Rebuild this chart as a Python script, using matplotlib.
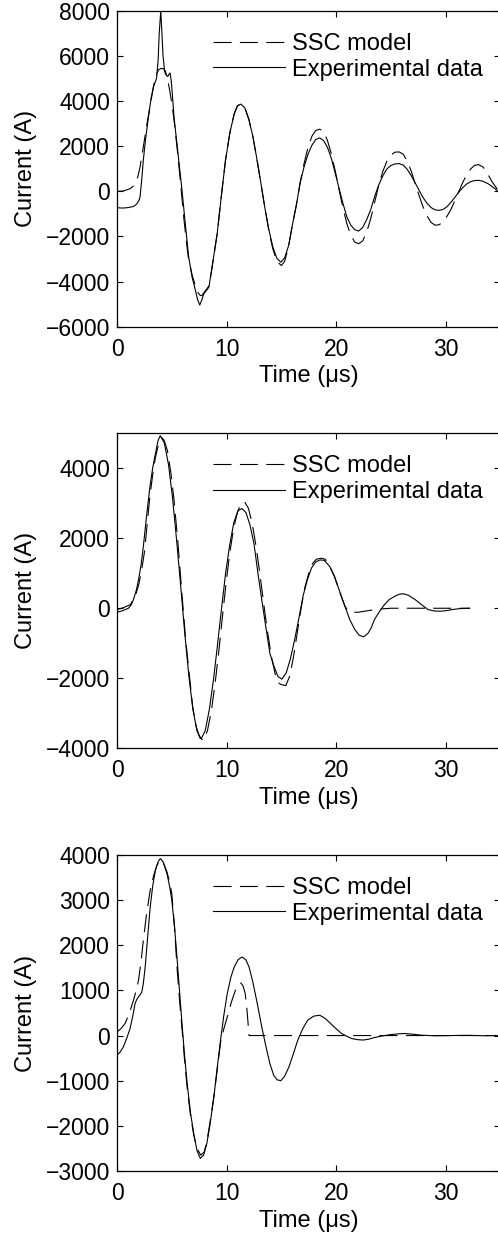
import matplotlib
matplotlib.use("Agg")
import matplotlib.pyplot as plt

plt.rcParams['font.family'] = ['Liberation Sans', 'DejaVu Sans']
plt.rcParams['lines.scale_dashes'] = False

# ---- panel 1 ----
t_exp1 = [0, 0.5, 1.0, 1.5, 1.8, 2.0, 2.1, 2.25, 2.4, 2.6, 2.87, 3.1, 3.33, 3.6, 3.75,
          3.85, 3.99, 4.1, 4.2, 4.35, 4.5, 4.63, 4.75, 4.84, 4.95, 5.05, 5.2, 5.6, 5.9,
          6.2, 6.54, 6.85, 7.16, 7.35, 7.55, 7.75, 7.92, 8.15, 8.38, 8.6, 8.85, 9.14,
          9.5, 9.9, 10.3, 10.7, 11.0, 11.3, 11.67, 12.03, 12.4, 12.76, 13.13, 13.49,
          13.86, 14.22, 14.59, 14.95, 15.3, 15.66, 16.0, 16.37, 16.72, 17.08, 17.43,
          17.79, 18.14, 18.5, 18.86, 19.21, 19.57, 19.92, 20.28, 20.63, 20.99, 21.34,
          21.7, 22.05, 22.42, 22.79, 23.16, 23.53, 23.9, 24.27, 24.64, 25.01, 25.38,
          25.75, 26.12, 26.48, 26.85, 27.21, 27.58, 27.94, 28.31, 28.67, 29.04, 29.4,
          29.76, 30.12, 30.48, 30.84, 31.2, 31.56, 31.92, 32.28, 32.64, 33.0, 33.4,
          33.9, 34.3, 34.7]
i_exp1 = [-725, -740, -720, -670, -560, -400, -250, 500, 1380, 2300, 3300, 4100, 4640, 5000, 5800,
          7000, 8000, 7000, 6000, 5300, 5150, 5090, 5200, 5250, 4900, 4300, 3300, 1530, 190,
          -1290, -2915, -3800, -4400, -4800, -5040, -4800, -4540, -4400, -4250, -3600, -2800, -1880,
          -300, 1380, 2600, 3450, 3800, 3870, 3700, 3200, 2430, 1450, 365, -720,
          -1700, -2470, -2970, -3140, -2950, -2400, -1500, -600, 400, 1100, 1650,
          2050, 2300, 2370, 2250, 1950, 1450, 800, 100, -550, -1150, -1500,
          -1700, -1760, -1600, -1250, -800, -200, 300, 700, 1000, 1150, 1220,
          1230, 1170, 980, 700, 380, 40, -280, -540, -720, -820, -840,
          -800, -680, -480, -260, -30, 170, 330, 430, 480, 490, 450,
          330, 190, 40]
t_mod1 = [0, 0.6, 1.2, 1.45, 1.65, 1.9, 2.1, 2.4, 2.7, 3.0, 3.25, 3.5, 3.8, 4.0, 4.2,
          4.4, 4.6, 4.8, 5.0, 5.17, 5.4, 5.6, 5.85, 6.1, 6.3, 6.5, 6.85, 7.16, 7.4, 7.6,
          7.75, 7.92, 8.15, 8.38, 8.6, 8.85, 9.14, 9.5, 9.9, 10.3, 10.7, 11.0, 11.3,
          11.67, 12.03, 12.4, 12.76, 13.13, 13.49, 13.86, 14.22, 14.59, 15.0, 15.3,
          15.66, 16.0, 16.37, 16.72, 17.08, 17.43, 17.79, 18.14, 18.5, 18.86, 19.21,
          19.57, 19.92, 20.28, 20.63, 20.99, 21.34, 21.7, 22.05, 22.42, 22.79, 23.16,
          23.53, 23.9, 24.27, 24.64, 25.01, 25.38, 25.75, 26.12, 26.48, 26.85, 27.21,
          27.58, 27.94, 28.31, 28.67, 29.04, 29.4, 29.76, 30.12, 30.48, 30.84, 31.2,
          31.56, 31.92, 32.28, 32.64, 33.0, 33.4, 33.8, 34.2, 34.7]
i_mod1 = [0, 20, 120, 220, 340, 650, 1080, 1970, 2900, 3750, 4450, 5080, 5400, 5450, 5450,
          5350, 5000, 4500, 3900, 3300, 2300, 1380, 100, -1200, -2100, -2910, -3700, -4200, -4500, -4620,
          -4620, -4500, -4350, -4200, -3600, -2800, -1880, -300, 1380, 2600, 3450, 3800, 3870,
          3700, 3200, 2430, 1450, 365, -720, -1750, -2550, -3100, -3290, -3100,
          -2450, -1500, -600, 400, 1250, 1950, 2450, 2700, 2760, 2650, 2250,
          1650, 900, 50, -750, -1450, -1950, -2250, -2320, -2200, -1800, -1200,
          -450, 300, 900, 1350, 1620, 1740, 1750, 1650, 1350, 900, 350,
          -200, -700, -1100, -1380, -1500, -1480, -1350, -1100, -800, -400, 0,
          400, 750, 1000, 1150, 1190, 1080, 800, 450, 100]

# ---- panel 2 ----
t_exp2 = [0, 0.5, 1.04, 1.3, 1.5, 1.75, 1.96, 2.2, 2.4, 2.7, 3.0, 3.25, 3.5, 3.75, 3.95,
          4.32, 4.7, 5.07, 5.44, 5.82, 6.19, 6.56, 6.93, 7.31, 7.68, 8.05, 8.42, 8.8,
          9.17, 9.54, 9.91, 10.28, 10.66, 11.03, 11.4, 11.77, 12.13, 12.5, 12.86, 13.23,
          13.59, 13.96, 14.32, 14.69, 15.05, 15.44, 15.82, 16.21, 16.59, 16.98, 17.36,
          17.75, 18.13, 18.52, 18.9, 19.4, 19.85, 20.3, 20.8, 21.25, 21.7, 22.1, 22.5,
          22.9, 23.2, 23.5, 23.9, 24.4, 24.85, 25.35, 25.75, 26.1, 26.6, 27.2, 27.8,
          28.4, 29.0, 29.5, 30.0, 30.55, 31.3, 32.2]
i_exp2 = [-115, -70, 0, 100, 250, 500, 810, 1250, 1760, 2650, 3460, 4000, 4410, 4800, 4930,
          4720, 4100, 3146, 1938, 600, -738, -1946, -2900, -3520, -3730, -3500, -2900, -2050,
          -1050, 0, 1000, 1800, 2450, 2780, 2850, 2730, 2384, 1845, 1000, 200,
          -550, -1300, -1650, -1950, -2025, -1850, -1450, -900, -300, 350, 800,
          1150, 1320, 1380, 1370, 1200, 910, 500, 57, -330, -605, -770, -815,
          -720, -560, -320, -120, 100, 250, 340, 400, 415, 370, 250, 100,
          -40, -80, -85, -70, -40, -10, 0]
t_mod2 = [0, 0.6, 1.2, 1.5, 1.75, 2.0, 2.25, 2.5, 2.75, 3.0, 3.25, 3.5, 3.8, 4.05, 4.3,
          4.6, 4.9, 5.2, 5.55, 5.9, 6.25, 6.6, 6.9, 7.2, 7.55, 7.9, 8.25, 8.6, 8.95,
          9.3, 9.65, 10.0, 10.3, 10.65, 11.0, 11.3, 11.65, 12.0, 12.35, 12.7, 13.05,
          13.4, 13.75, 14.1, 14.45, 14.8, 15.0, 15.4, 15.75, 16.1, 16.45, 16.8, 17.15,
          17.5, 17.85, 18.2, 18.6, 19.0, 19.4, 19.85, 20.3, 20.8, 21.1, 21.5, 22.0,
          22.7, 23.5, 24.3, 25.0, 32.2]
i_mod2 = [-40, 20, 100, 250, 430, 700, 1100, 1600, 2400, 3200, 3800, 4300, 4700, 4880, 4800,
          4500, 3900, 3100, 1900, 500, -850, -1900, -2800, -3350, -3700, -3775, -3500, -2950, -2150,
          -1200, -150, 850, 1600, 2300, 2750, 2980, 3040, 2850, 2400, 1750, 950,
          100, -700, -1400, -1900, -2150, -2180, -2210, -1950, -1400, -700, 0, 600,
          1000, 1280, 1400, 1430, 1400, 1200, 900, 480, 57, -80, -110, -115,
          -80, -40, -15, 0, 0]

# ---- panel 3 ----
t_exp3 = [0, 0.3, 0.58, 0.9, 1.19, 1.45, 1.65, 1.8, 1.96, 2.1, 2.26, 2.4, 2.57, 2.8, 3.03,
          3.25, 3.5, 3.75, 3.95, 4.2, 4.4, 4.56, 4.8, 5.0, 5.25, 5.47, 5.7, 5.93, 6.15,
          6.4, 6.7, 7.0, 7.3, 7.6, 7.9, 8.2, 8.5, 8.84, 9.15, 9.45, 9.75, 10.06, 10.4,
          10.7, 11.05, 11.4, 11.75, 12.05, 12.4, 12.8, 13.2, 13.6, 13.95, 14.3, 14.6,
          14.95, 15.3, 15.7, 16.1, 16.5, 16.95, 17.4, 17.95, 18.5, 19.0, 19.5, 20.0,
          20.5, 21.0, 21.4, 21.9, 22.45, 23.0, 23.5, 24.2, 25.0, 25.7, 26.3, 27.0, 27.8,
          29.0, 30.55, 32.0, 33.5, 34.7]
i_exp3 = [-435, -360, -250, -50, 155, 450, 710, 800, 855, 900, 965, 1150, 1520, 2200, 2850,
          3300, 3660, 3850, 3920, 3850, 3700, 3590, 3300, 3000, 2400, 1740, 1000, 265, -400,
          -1060, -1700, -2170, -2550, -2720, -2650, -2390, -1950, -1360, -700, -100, 450, 930, 1300,
          1520, 1680, 1740, 1680, 1520, 1180, 710, 200, -250, -620, -880, -980,
          -1000, -900, -690, -400, -100, 150, 340, 430, 450, 380, 265, 150,
          44, -20, -65, -90, -100, -80, -44, -10, 22, 38, 44, 30, 7,
          -5, 0, 5, -5, 0]
t_mod3 = [0, 0.35, 0.73, 1.1, 1.5, 1.75, 1.96, 2.2, 2.4, 2.7, 3.03, 3.35, 3.64, 3.95, 4.25,
          4.56, 4.8, 5.0, 5.25, 5.47, 5.7, 5.93, 6.15, 6.4, 6.7, 7.0, 7.3, 7.65, 7.95,
          8.2, 8.5, 8.84, 9.15, 9.45, 9.75, 10.06, 10.45, 10.8, 11.05, 11.3, 11.5, 11.7,
          11.85, 11.95, 12.05, 34.7]
i_mod3 = [80, 150, 265, 480, 780, 1000, 1225, 1650, 2110, 2700, 3220, 3550, 3770, 3900, 3820,
          3620, 3400, 3140, 2400, 1520, 800, 150, -500, -1150, -1750, -2200, -2500, -2650, -2580,
          -2350, -1900, -1350, -750, -150, 150, 410, 750, 1000, 1120, 1165, 1100, 930,
          600, 300, 0, 0]

panels = [
    (t_mod1, i_mod1, t_exp1, i_exp1, (-6000, 8000), range(-6000, 8001, 2000)),
    (t_mod2, i_mod2, t_exp2, i_exp2, (-4000, 5000), range(-4000, 4001, 2000)),
    (t_mod3, i_mod3, t_exp3, i_exp3, (-3000, 4000), range(-3000, 4001, 1000)),
]
# axes boxes in figure fractions (left, bottom, width, height)
boxes = [(0.235, 0.7357, 0.770, 0.2554),
         (0.235, 0.3946, 0.770, 0.2549),
         (0.235, 0.0526, 0.770, 0.2557)]

fig = plt.figure(figsize=(4.98, 12.36), dpi=100)
fs_tick = 16.5
fs = 17
for (tm, im, te, ie, ylim, yt), box in zip(panels, boxes):
    ax = fig.add_axes(box)
    ax.plot(tm, im, color='k', lw=0.8, dashes=(13, 6), label='SSC model')
    ax.plot(te, ie, color='k', lw=0.8, label='Experimental data')
    ax.set_xlim(0, 35)
    ax.set_ylim(*ylim)
    ax.set_xticks([0, 10, 20, 30])
    ax.set_yticks(list(yt))
    ax.set_yticklabels([str(v).replace('-', '\u2212') for v in yt])
    ax.tick_params(direction='in', top=True, right=True, length=4, width=0.8,
                   labelsize=fs_tick)
    ax.tick_params(axis='x', pad=8)
    ax.tick_params(axis='y', pad=5)
    for s in ax.spines.values():
        s.set_linewidth(0.9)
    ax.set_xlabel('Time (\u03bcs)', fontsize=fs)
    ax.set_ylabel('Current (A)', fontsize=fs)
    ax.xaxis.set_label_coords(0.5, -0.122)
    ax.yaxis.set_label_coords(-0.21, 0.5)
    ax.legend(loc='upper left', bbox_to_anchor=(0.25, 0.93), frameon=False,
              fontsize=fs, handlelength=3.05, handletextpad=0.3, borderpad=0,
              borderaxespad=0, labelspacing=0.15)

fig.savefig('out.png', dpi=100)
